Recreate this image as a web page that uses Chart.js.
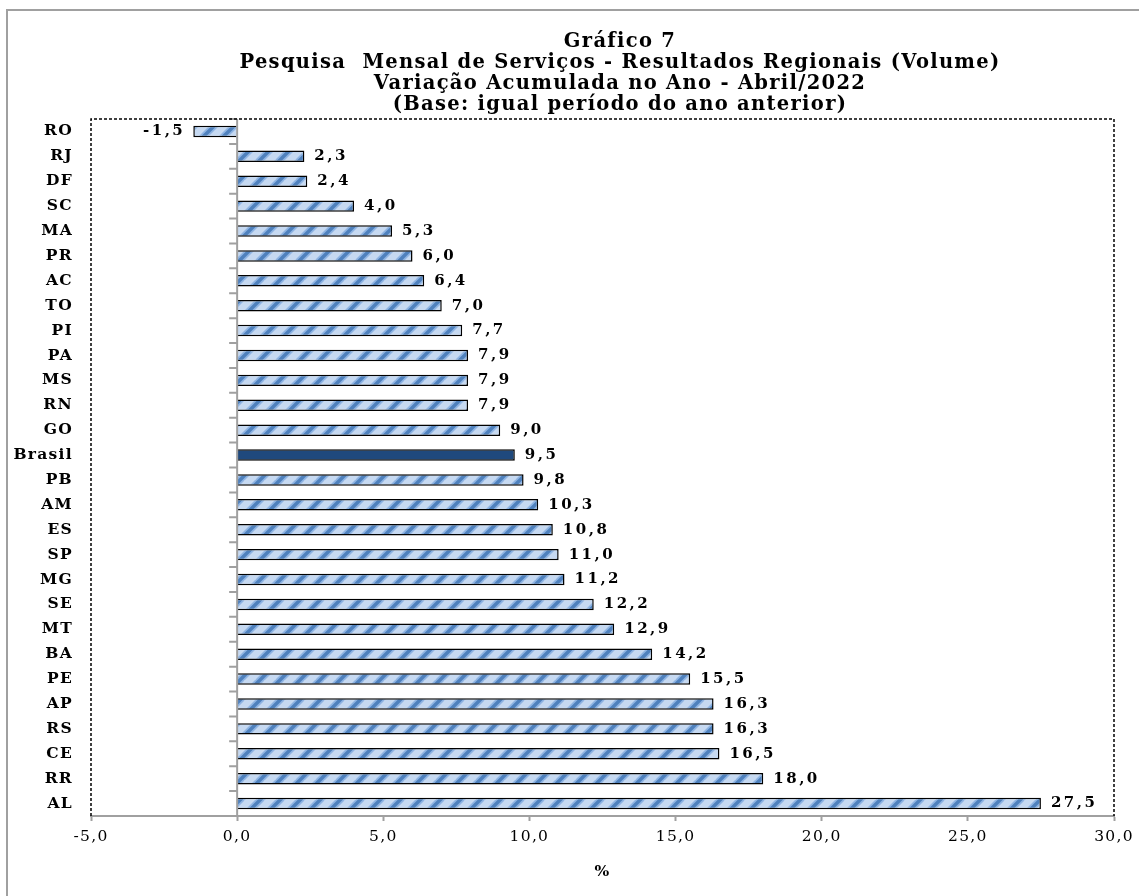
<!DOCTYPE html>
<html>
<head>
<meta charset="utf-8">
<script src="https://cdn.jsdelivr.net/npm/chart.js@4.4.1/dist/chart.umd.min.js"></script>
<style>
  html, body { margin: 0; padding: 0; background: #fff; overflow: hidden; width: 1139px; height: 896px; }
  #frame { position: absolute; left: 6px; top: 9px; width: 2000px; height: 2000px; border: 2px solid #a0a0a0; }
  #c { position: absolute; left: 0; top: 0; }
</style>
</head>
<body>
<div id="frame"></div>
<canvas id="c" width="1240" height="896"></canvas>
<script>
const titleLines = [
    'Gráfico 7',
    'Pesquisa  Mensal de Serviços - Resultados Regionais (Volume)',
    'Variação Acumulada no Ano - Abril/2022',
    '(Base: igual período do ano anterior)'
];
const categories = ['RO', 'RJ', 'DF', 'SC', 'MA', 'PR', 'AC', 'TO', 'PI', 'PA', 'MS', 'RN', 'GO', 'Brasil',
    'PB', 'AM', 'ES', 'SP', 'MG', 'SE', 'MT', 'BA', 'PE', 'AP', 'RS', 'CE', 'RR', 'AL'];
const values = [-1.5, 2.3, 2.4, 4.0, 5.3, 6.0, 6.4, 7.0, 7.7, 7.9, 7.9, 7.9, 9.0, 9.5,
    9.8, 10.3, 10.8, 11.0, 11.2, 12.2, 12.9, 14.2, 15.5, 16.3, 16.3, 16.5, 18.0, 27.5];
const xMin = -5, xMax = 30, xStep = 5;
const axisTitle = '%';

const SERIF = '"DejaVu Serif", serif';
const fmt = v => v.toFixed(1).replace('.', ',');

function makeHatch() {
    const n = 20;
    const c = document.createElement('canvas');
    c.width = c.height = n;
    const g = c.getContext('2d');
    g.fillStyle = '#c6d9f1';
    g.fillRect(0, 0, n, n);
    [['#8fb4e3', 7], ['#4f81bd', 3.5]].forEach(([col, w]) => {
        g.strokeStyle = col;
        g.lineWidth = w;
        g.beginPath();
        for (let k = -1; k <= 1; k++) {
            g.moveTo(k * n - 2, n + 2);
            g.lineTo(k * n + n + 2, -2);
        }
        g.stroke();
    });
    return g.createPattern(c, 'repeat');
}

// wider text, like the original's spacing
const spacing = {
    id: 'spacing',
    beforeLayout(chart) { chart.ctx.letterSpacing = '1.3px'; },
    beforeDraw(chart) { chart.ctx.letterSpacing = '1.3px'; }
};

// zero axis with ticks, dashed plot frame, value labels
const extras = {
    id: 'extras',
    afterDatasetsDraw(chart) {
        const { ctx, chartArea: a, scales: { x, y } } = chart;
        const x0 = x.getPixelForValue(0);
        const step = y.getPixelForValue(1) - y.getPixelForValue(0);
        ctx.save();
        ctx.strokeStyle = '#a0a0a0';
        ctx.lineWidth = 2;
        ctx.beginPath();
        ctx.moveTo(x0, a.top);
        ctx.lineTo(x0, a.bottom);
        for (let i = 0; i <= categories.length; i++) {
            const yy = y.getPixelForValue(i) - step / 2;
            ctx.moveTo(x0 - 8, yy);
            ctx.lineTo(x0, yy);
        }
        ctx.stroke();

        ctx.strokeStyle = '#000';
        ctx.lineWidth = 1.5;
        ctx.setLineDash([3, 2]);
        ctx.beginPath();
        ctx.moveTo(a.left, a.bottom);
        ctx.lineTo(a.left, a.top);
        ctx.lineTo(a.right, a.top);
        ctx.lineTo(a.right, a.bottom);
        ctx.stroke();
        ctx.setLineDash([]);

        ctx.font = 'bold 15px ' + SERIF;
        ctx.letterSpacing = '2.5px';
        ctx.fillStyle = '#000';
        ctx.textBaseline = 'middle';
        chart.getDatasetMeta(0).data.forEach((bar, i) => {
            const v = values[i];
            ctx.textAlign = v < 0 ? 'right' : 'left';
            ctx.fillText(fmt(v), bar.x + (v < 0 ? -8 : 10), bar.y);
        });
        ctx.restore();
    }
};

const hatch = makeHatch();

new Chart(document.getElementById('c'), {
    type: 'bar',
    data: {
        labels: categories,
        datasets: [{
            data: values,
            backgroundColor: categories.map(c => c === 'Brasil' ? '#1f497d' : hatch),
            borderColor: '#000',
            borderWidth: 1.5,
            barPercentage: 0.46,
            categoryPercentage: 1
        }]
    },
    options: {
        indexAxis: 'y',
        responsive: false,
        animation: false,
        devicePixelRatio: 1,
        layout: { padding: { left: 7, right: 7, top: 0, bottom: 0 } },
        plugins: {
            legend: { display: false },
            tooltip: { enabled: false },
            title: {
                display: true,
                text: titleLines,
                color: '#000',
                font: { family: SERIF, size: 19.5, weight: 'bold', lineHeight: 1.077 },
                padding: { top: 31.5, bottom: 3.5 }
            }
        },
        scales: {
            x: {
                type: 'linear', min: xMin, max: xMax,
                ticks: {
                    stepSize: xStep, color: '#000', padding: 7,
                    font: { family: SERIF, size: 15.5 },
                    callback: v => fmt(v)
                },
                grid: { drawOnChartArea: false, tickLength: 5, tickColor: '#a0a0a0', tickWidth: 2 },
                border: { color: '#a0a0a0', width: 2 },
                title: {
                    display: true, text: axisTitle, color: '#000',
                    font: { family: SERIF, size: 15.5, weight: 'bold' },
                    padding: { top: 0, bottom: 15 }
                },
                afterFit: s => { s.height = 80; }
            },
            y: {
                type: 'category',
                ticks: { color: '#000', padding: 18, font: { family: SERIF, size: 15.5, weight: 'bold' } },
                grid: { display: false, drawTicks: false },
                border: { display: false },
                afterFit: s => { s.width = 84; }
            },
            yr: {
                type: 'category', position: 'right', display: true,
                ticks: { display: false },
                grid: { display: false, drawTicks: false },
                border: { display: false },
                afterFit: s => { s.width = 119; }
            }
        }
    },
    plugins: [spacing, extras]
});
</script>
</body>
</html>
